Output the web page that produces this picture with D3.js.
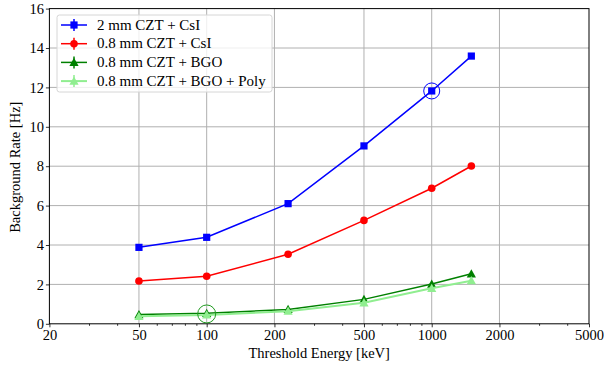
<!DOCTYPE html>
<html>
<head>
<meta charset="utf-8">
<script src="https://cdn.jsdelivr.net/npm/d3@7"></script>
<style>
  body { margin: 0; background: #fff; }
</style>
</head>
<body>
<div id="chart"></div>
<script>
// threshold energies [keV]
const thresholds = [50, 100, 230, 500, 1000, 1500];

const czt2CsI = [3.88, 4.39, 6.10, 9.03, 11.82, 13.59];
const czt08CsI = [2.17, 2.41, 3.53, 5.25, 6.88, 8.01];
const czt08BGO = [0.47, 0.53, 0.73, 1.24, 2.02, 2.54];
const czt08BGOPoly = [0.38, 0.45, 0.64, 1.07, 1.80, 2.19];

const seriesNames = ["2 mm CZT + CsI", "0.8 mm CZT + CsI", "0.8 mm CZT + BGO", "0.8 mm CZT + BGO + Poly"];
const xTicks = [20, 50, 100, 200, 500, 1000, 2000, 5000];
const xMinorTicks = [30, 40, 60, 70, 80, 90, 300, 400, 600, 700, 800, 900, 3000, 4000];
const yTicks = [0, 2, 4, 6, 8, 10, 12, 14, 16];

// highlighted points
const highlights = [
  {x: 1000, y: 11.82, color: "blue", r: 8},
  {x: 100, y: 0.5, color: "#1e9a1e", r: 9}
];

const series = [
  {name: seriesNames[0], values: czt2CsI, color: "blue", marker: "square", width: 1.5},
  {name: seriesNames[1], values: czt08CsI, color: "red", marker: "circle", width: 1.5},
  {name: seriesNames[2], values: czt08BGO, color: "green", marker: "triangle", width: 1.5},
  {name: seriesNames[3], values: czt08BGOPoly, color: "lightgreen", marker: "triangle", width: 2}
];

const FONT = "'Liberation Serif', serif";
const FS = 14.5;
const W = 604, H = 365;
const margin = {top: 8.6, right: 15, bottom: 41.2, left: 49.4};
const width = W - margin.left - margin.right;
const height = H - margin.top - margin.bottom;

const svg = d3.select("#chart").append("svg")
  .attr("width", W)
  .attr("height", H)
  .style("font-family", FONT);

const g = svg.append("g")
  .attr("transform", "translate(" + margin.left + "," + margin.top + ")");

// SCALES
const x = d3.scaleLog().domain([20, 5000]).range([0, width]);
const y = d3.scaleLinear().domain([0, 16]).range([height, 0]);

// GRID
g.append("g").selectAll("line")
  .data(xTicks.slice(1, -1))
  .enter().append("line")
  .attr("x1", d => x(d)).attr("x2", d => x(d))
  .attr("y1", 0).attr("y2", height)
  .attr("stroke", "#b0b0b0").attr("stroke-width", 1);

g.append("g").selectAll("line")
  .data(yTicks.slice(1, -1))
  .enter().append("line")
  .attr("x1", 0).attr("x2", width)
  .attr("y1", d => y(d)).attr("y2", d => y(d))
  .attr("stroke", "#b0b0b0").attr("stroke-width", 1);

// AXES
const xAxis = d3.axisBottom(x).tickValues(xTicks).tickFormat(d3.format("d")).tickSize(3.5).tickPadding(2);
const xMinor = d3.axisBottom(x).tickValues(xMinorTicks).tickFormat("").tickSize(2);
const yAxis = d3.axisLeft(y).tickValues(yTicks).tickSize(3.5).tickPadding(2);

const gx = g.append("g").attr("transform", "translate(0," + height + ")").call(xAxis);
g.append("g").attr("transform", "translate(0," + height + ")").call(xMinor)
  .select(".domain").remove();
const gy = g.append("g").call(yAxis);

g.selectAll("g").attr("font-family", null);
g.selectAll(".tick text").attr("font-size", FS).attr("fill", "#000");
g.selectAll(".tick line").attr("stroke", "#000").attr("stroke-width", 0.8);
gx.select(".domain").remove();
gy.select(".domain").remove();

// frame
g.append("rect")
  .attr("width", width).attr("height", height)
  .attr("fill", "none").attr("stroke", "#000").attr("stroke-width", 1);

// LABELS
svg.append("text")
  .attr("x", margin.left + width / 2)
  .attr("y", H - 7)
  .attr("text-anchor", "middle")
  .attr("font-size", FS)
  .text("Threshold Energy [keV]");

svg.append("text")
  .attr("transform", "translate(20," + (margin.top + height / 2 + 1) + ") rotate(-90)")
  .attr("text-anchor", "middle")
  .attr("font-size", FS)
  .text("Background Rate [Hz]");

function drawMarker(sel, type, color, px, py) {
  if (type === "square") {
    sel.append("rect").attr("x", px - 3.6).attr("y", py - 3.6)
      .attr("width", 7.2).attr("height", 7.2).attr("fill", color);
  } else if (type === "circle") {
    sel.append("circle").attr("cx", px).attr("cy", py).attr("r", 3.8).attr("fill", color);
  } else {
    const s = 4.6;
    sel.append("path")
      .attr("d", "M" + px + "," + (py - s) + "L" + (px + s) + "," + (py + s * 0.8) + "L" + (px - s) + "," + (py + s * 0.8) + "Z")
      .attr("fill", color);
  }
}

// LINES + MARKERS
const line = d3.line()
  .x(d => x(d[0]))
  .y(d => y(d[1]));

series.forEach(function (s) {
  const pts = thresholds.map((t, i) => [t, s.values[i]]);
  const sg = g.append("g");
  sg.append("path")
    .datum(pts)
    .attr("d", line)
    .attr("fill", "none")
    .attr("stroke", s.color)
    .attr("stroke-width", s.width);
  pts.forEach(p => drawMarker(sg, s.marker, s.color, x(p[0]), y(p[1])));
});

// highlight rings
g.selectAll(".hl")
  .data(highlights)
  .enter().append("circle")
  .attr("class", "hl")
  .attr("cx", d => x(d.x))
  .attr("cy", d => y(d.y))
  .attr("r", d => d.r)
  .attr("fill", "none")
  .attr("stroke", d => d.color)
  .attr("stroke-width", 1);

// LEGEND
const legend = svg.append("g").attr("transform", "translate(57,15)");
legend.append("rect")
  .attr("width", 215).attr("height", 77)
  .attr("rx", 2.5)
  .attr("fill", "#fff").attr("fill-opacity", 0.8)
  .attr("stroke", "#d6d6d6").attr("stroke-width", 1);

series.forEach(function (s, i) {
  const ly = 10 + i * 18.7;
  const row = legend.append("g");
  row.append("line")
    .attr("x1", 4).attr("x2", 30).attr("y1", ly).attr("y2", ly)
    .attr("stroke", s.color).attr("stroke-width", s.width);
  row.append("line")
    .attr("x1", 17).attr("x2", 17).attr("y1", ly - 6).attr("y2", ly + 6)
    .attr("stroke", s.color).attr("stroke-width", 1.5);
  drawMarker(row, s.marker, s.color, 17, ly);
  row.append("text")
    .attr("x", 40).attr("y", ly + 4.5)
    .attr("font-size", 15)
    .text(s.name);
});
</script>
</body>
</html>
